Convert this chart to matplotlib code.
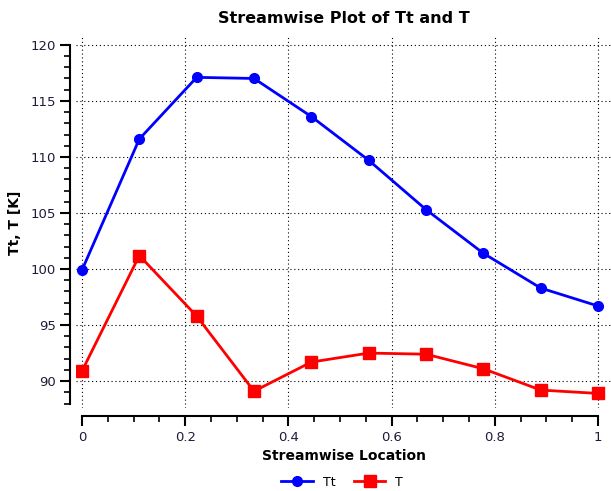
import matplotlib
matplotlib.use("Agg")
import matplotlib.pyplot as plt
import numpy as np
from matplotlib.ticker import MultipleLocator

# Datos
location = [0, 1/9, 2/9, 3/9, 4/9, 5/9, 6/9, 7/9, 8/9, 1]
tt_vals = [99.9, 111.6, 117.1, 117.0, 113.6, 109.7, 105.3, 101.4, 98.3, 96.7]
t_vals = [90.9, 101.2, 95.8, 89.1, 91.7, 92.5, 92.4, 91.1, 89.2, 88.9]

fig = plt.figure(figsize=(6.11, 4.91), dpi=100)
ax = fig.add_axes([76/611, 83/491, 535/611, 371/491])

ax.plot(location, tt_vals, color='#0000ff', lw=2, marker='o', ms=7, label='Tt')
ax.plot(location, t_vals, color='#ff0000', lw=2, marker='s', ms=8, label='T')

ax.set_xlim(-0.0116, 1.025)
ax.set_ylim(87.6, 120.7)

ax.xaxis.set_major_locator(MultipleLocator(0.2))
ax.xaxis.set_minor_locator(MultipleLocator(0.05))
ax.yaxis.set_major_locator(MultipleLocator(5))
ax.yaxis.set_minor_locator(MultipleLocator(1))
ax.set_xticks([0, 0.2, 0.4, 0.6, 0.8, 1.0])
ax.set_xticklabels(['0', '0.2', '0.4', '0.6', '0.8', '1'])

# Rejilla punteada fina
ax.grid(True, which='major', color='black', linestyle=(0, (1, 2.5)), linewidth=0.8)

for s in ['top', 'right']:
    ax.spines[s].set_visible(False)
ax.spines['left'].set_position(('outward', 4))
ax.spines['bottom'].set_position(('outward', 6))
ax.spines['left'].set_bounds(88, 120)
ax.spines['bottom'].set_bounds(0, 1)
ax.spines['left'].set_linewidth(1.5)
ax.spines['bottom'].set_linewidth(1.5)

txt_color = '#1c1c3a'
ax.tick_params(which='major', length=7, width=1.5, labelsize=9.5, labelcolor=txt_color, direction='out')
ax.tick_params(which='minor', length=4, width=1.2, direction='out')

ax.set_title('Streamwise Plot of Tt and T', fontsize=11.5, fontweight='bold', pad=10)
ax.set_xlabel('Streamwise Location', fontsize=10, fontweight='bold', labelpad=4)
ax.set_ylabel('Tt, T [K]', fontsize=10, fontweight='bold', labelpad=6)

fig.legend(loc='lower center', bbox_to_anchor=(0.56, -0.018), ncol=2, frameon=False,
           fontsize=9, handlelength=2.5, columnspacing=1.5)

fig.savefig('out.png', dpi=100)
